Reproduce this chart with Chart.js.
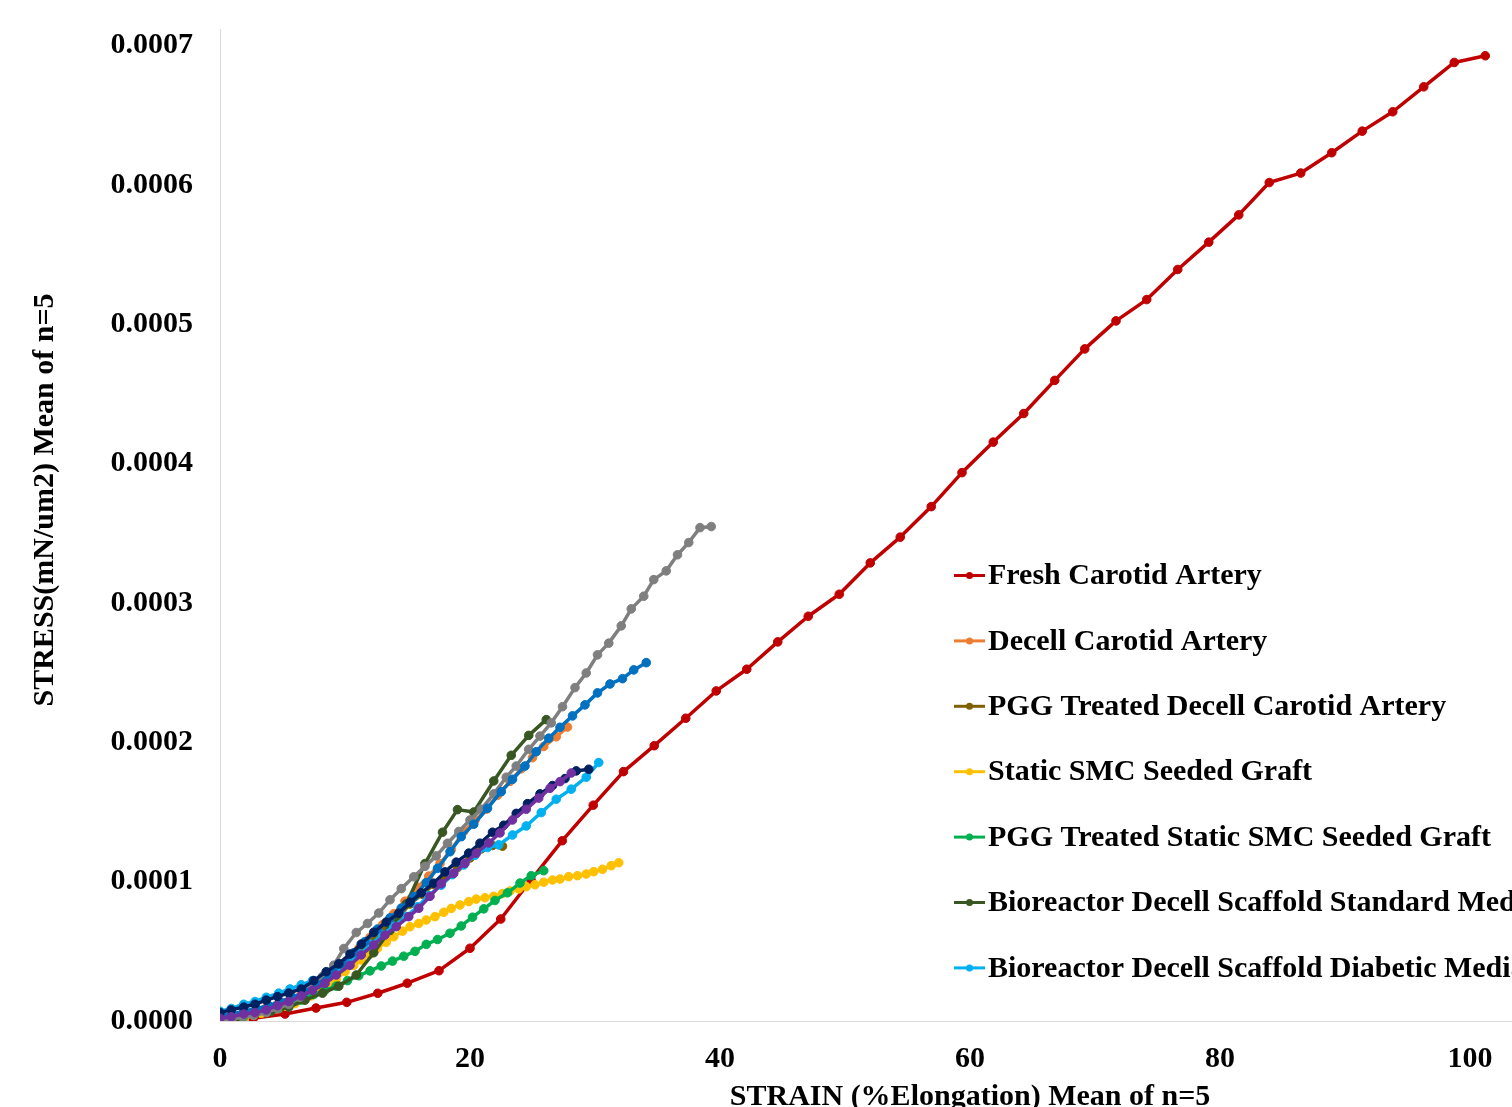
<!DOCTYPE html>
<html>
<head>
<meta charset="utf-8">
<script src="https://cdn.jsdelivr.net/npm/chart.js@4.4.1/dist/chart.umd.min.js"></script>
<style>
  html, body { margin: 0; padding: 0; background: #fff; overflow: hidden; }
  #wrap { position: absolute; left: 0; top: 0; width: 1800px; height: 1140px; }
</style>
</head>
<body>
<div id="wrap"><canvas id="chart" width="1800" height="1140"></canvas></div>
<script>
// Series names (legend order)
const seriesLabels = [
  'Fresh Carotid Artery',
  'Decell Carotid Artery',
  'PGG Treated Decell Carotid Artery',
  'Static SMC Seeded Graft',
  'PGG Treated Static SMC Seeded Graft',
  'Bioreactor Decell Scaffold Standard Media',
  'Bioreactor Decell Scaffold Diabetic Media',
  'PGG Treated Bioreactor Scaffold Standard Media',
  'PGG Treated Bioreactor Scaffold Diabetic Media',
  'Bioreactor SMC Seeded Graft Standard Media',
  'Bioreactor SMC Seeded Graft Diabetic Media'
];
const seriesColors = ['#c00000', '#ed7d31', '#7f6000', '#ffc000', '#00b050', '#385723',
  '#00b0f0', '#7f7f7f', '#0070c0', '#002060', '#7030a0'];

// strain (% elongation) and stress (mN/um2) for each series
const freshStrain = [0, 2.66, 5.2, 7.68, 10.14, 12.62, 14.98, 17.52, 20.0, 22.46, 24.88, 27.38, 29.86,
  32.28, 34.74, 37.26, 39.7, 42.14, 44.62, 47.06, 49.54, 52.02, 54.42, 56.9, 59.36, 61.86, 64.3, 66.78,
  69.18, 71.68, 74.14, 76.62, 79.1, 81.5, 83.94, 86.46, 88.94, 91.38, 93.82, 96.3, 98.74, 101.22];
const freshStress = [0, 0.019e-4, 0.050e-4, 0.093e-4, 0.134e-4, 0.199e-4, 0.271e-4, 0.361e-4, 0.522e-4,
  0.732e-4, 1.012e-4, 1.294e-4, 1.549e-4, 1.790e-4, 1.976e-4, 2.173e-4, 2.369e-4, 2.525e-4, 2.721e-4,
  2.905e-4, 3.063e-4, 3.288e-4, 3.473e-4, 3.692e-4, 3.936e-4, 4.155e-4, 4.360e-4, 4.598e-4, 4.824e-4,
  5.025e-4, 5.178e-4, 5.394e-4, 5.590e-4, 5.786e-4, 6.018e-4, 6.086e-4, 6.232e-4, 6.387e-4, 6.526e-4,
  6.705e-4, 6.880e-4, 6.928e-4];

const decellStrain = [0, 0.9, 1.9, 2.8, 3.7, 4.6, 5.6, 6.5, 7.4, 8.3, 9.3, 10.2, 11.1, 12.0, 13.0, 13.9,
  14.8, 15.8, 16.7, 17.6, 18.5, 19.5, 20.4, 21.3, 22.2, 23.2, 24.1, 25.0, 25.9, 26.9, 27.8];
const decellStress = [0, 0.02e-4, 0.045e-4, 0.07e-4, 0.095e-4, 0.12e-4, 0.155e-4, 0.19e-4, 0.23e-4,
  0.29e-4, 0.36e-4, 0.435e-4, 0.52e-4, 0.60e-4, 0.69e-4, 0.77e-4, 0.86e-4, 0.96e-4, 1.04e-4, 1.13e-4,
  1.23e-4, 1.36e-4, 1.44e-4, 1.52e-4, 1.62e-4, 1.72e-4, 1.81e-4, 1.89e-4, 1.97e-4, 2.04e-4, 2.11e-4];

const pggDecellStrain = [0, 1.0, 1.9, 2.9, 3.8, 4.8, 5.7, 6.7, 7.6, 8.6, 9.5, 10.5, 11.4, 12.4, 13.3,
  14.3, 15.2, 16.2, 17.1, 18.1, 19.0, 20.0, 20.9, 21.8, 22.6];
const pggDecellStress = [0, 0.02e-4, 0.04e-4, 0.06e-4, 0.085e-4, 0.115e-4, 0.15e-4, 0.19e-4, 0.24e-4,
  0.30e-4, 0.36e-4, 0.43e-4, 0.51e-4, 0.59e-4, 0.67e-4, 0.75e-4, 0.84e-4, 0.91e-4, 0.98e-4, 1.04e-4,
  1.10e-4, 1.17e-4, 1.235e-4, 1.26e-4, 1.255e-4];

const staticStrain = [0, 0.7, 1.3, 2.0, 2.7, 3.3, 4.0, 4.7, 5.3, 6.0, 6.7, 7.3, 8.0, 8.7, 9.3, 10.0,
  10.7, 11.3, 12.0, 12.6, 13.3, 13.9, 14.6, 15.2, 15.9, 16.5, 17.2, 17.9, 18.5, 19.2, 19.9, 20.5, 21.2,
  21.9, 22.6, 23.2, 23.9, 24.5, 25.2, 25.9, 26.6, 27.2, 27.9, 28.6, 29.3, 29.9, 30.6, 31.3, 31.9];
const staticStress = [0, 0.01e-4, 0.02e-4, 0.03e-4, 0.04e-4, 0.055e-4, 0.07e-4, 0.09e-4, 0.105e-4,
  0.125e-4, 0.15e-4, 0.18e-4, 0.22e-4, 0.255e-4, 0.30e-4, 0.354e-4, 0.40e-4, 0.438e-4, 0.48e-4,
  0.522e-4, 0.565e-4, 0.605e-4, 0.645e-4, 0.677e-4, 0.70e-4, 0.725e-4, 0.749e-4, 0.78e-4, 0.808e-4,
  0.833e-4, 0.857e-4, 0.875e-4, 0.885e-4, 0.895e-4, 0.915e-4, 0.933e-4, 0.948e-4, 0.964e-4, 0.978e-4,
  0.996e-4, 1.012e-4, 1.019e-4, 1.036e-4, 1.043e-4, 1.055e-4, 1.072e-4, 1.089e-4, 1.115e-4, 1.136e-4];

const pggStaticStrain = [0, 0.9, 1.9, 2.8, 3.7, 4.7, 5.6, 6.5, 7.5, 8.4, 9.3, 10.2, 11.1, 12.0, 12.9,
  13.8, 14.7, 15.6, 16.5, 17.4, 18.4, 19.3, 20.2, 21.1, 22.0, 23.0, 24.0, 24.9, 25.9];
const pggStaticStress = [0, 0.01e-4, 0.03e-4, 0.05e-4, 0.07e-4, 0.09e-4, 0.12e-4, 0.15e-4, 0.19e-4,
  0.22e-4, 0.25e-4, 0.29e-4, 0.325e-4, 0.36e-4, 0.395e-4, 0.43e-4, 0.465e-4, 0.50e-4, 0.55e-4, 0.585e-4,
  0.63e-4, 0.682e-4, 0.745e-4, 0.805e-4, 0.865e-4, 0.92e-4, 0.99e-4, 1.043e-4, 1.079e-4];

const bioStdStrain = [0, 1.4, 2.7, 4.1, 5.5, 6.8, 8.2, 9.5, 10.9, 12.3, 13.6, 14.9, 16.4, 17.8, 19.0,
  20.3, 21.9, 23.3, 24.7, 26.1];
const bioStdStress = [0.01e-4, 0.03e-4, 0.05e-4, 0.07e-4, 0.10e-4, 0.15e-4, 0.20e-4, 0.25e-4, 0.33e-4,
  0.49e-4, 0.65e-4, 0.84e-4, 1.13e-4, 1.355e-4, 1.517e-4, 1.50e-4, 1.723e-4, 1.907e-4, 2.05e-4, 2.163e-4];

const bioDiaStrain = [0, 0.9, 1.9, 2.8, 3.7, 4.7, 5.6, 6.5, 7.4, 8.4, 9.3, 10.2, 11.2, 12.1, 13.0, 13.9,
  14.9, 15.8, 16.7, 17.7, 18.6, 19.5, 20.4, 21.4, 22.3, 23.4, 24.5, 25.7, 26.9, 28.1, 29.3, 30.3];
const bioDiaStress = [0.07e-4, 0.09e-4, 0.12e-4, 0.14e-4, 0.17e-4, 0.20e-4, 0.23e-4, 0.26e-4, 0.29e-4,
  0.33e-4, 0.37e-4, 0.42e-4, 0.48e-4, 0.55e-4, 0.62e-4, 0.68e-4, 0.75e-4, 0.82e-4, 0.90e-4, 0.975e-4,
  1.05e-4, 1.12e-4, 1.19e-4, 1.245e-4, 1.264e-4, 1.335e-4, 1.40e-4, 1.496e-4, 1.592e-4, 1.664e-4,
  1.75e-4, 1.855e-4];

const grayStrain = [0, 0.9, 1.8, 2.7, 3.7, 4.6, 5.5, 6.4, 7.3, 8.2, 9.1, 9.9, 10.9, 11.8, 12.7, 13.6,
  14.5, 15.5, 16.4, 17.3, 18.2, 19.1, 20.0, 20.9, 21.9, 22.9, 23.7, 24.7, 25.6, 26.5, 27.4, 28.4, 29.3,
  30.2, 31.1, 32.1, 32.9, 33.9, 34.7, 35.7, 36.6, 37.5, 38.4, 39.3];
const grayStress = [0, 0.01e-4, 0.03e-4, 0.04e-4, 0.06e-4, 0.09e-4, 0.12e-4, 0.17e-4, 0.23e-4, 0.32e-4,
  0.40e-4, 0.52e-4, 0.635e-4, 0.70e-4, 0.775e-4, 0.87e-4, 0.95e-4, 1.035e-4, 1.11e-4, 1.185e-4, 1.276e-4,
  1.36e-4, 1.443e-4, 1.52e-4, 1.63e-4, 1.75e-4, 1.83e-4, 1.95e-4, 2.045e-4, 2.14e-4, 2.256e-4, 2.393e-4,
  2.498e-4, 2.628e-4, 2.712e-4, 2.836e-4, 2.958e-4, 3.049e-4, 3.168e-4, 3.231e-4, 3.346e-4, 3.434e-4,
  3.541e-4, 3.549e-4];

const blueStrain = [0, 1.0, 1.9, 2.9, 3.9, 4.8, 5.8, 6.8, 7.8, 8.7, 9.7, 10.7, 11.6, 12.6, 13.6, 14.5,
  15.5, 16.5, 17.4, 18.4, 19.3, 20.3, 21.4, 22.5, 23.4, 24.4, 25.3, 26.3, 27.2, 28.2, 29.2, 30.2, 31.2,
  32.2, 33.1, 34.1];
const blueStress = [0.04e-4, 0.05e-4, 0.07e-4, 0.09e-4, 0.11e-4, 0.14e-4, 0.17e-4, 0.21e-4, 0.26e-4,
  0.33e-4, 0.41e-4, 0.49e-4, 0.57e-4, 0.66e-4, 0.74e-4, 0.81e-4, 0.892e-4, 0.993e-4, 1.096e-4, 1.215e-4,
  1.323e-4, 1.412e-4, 1.527e-4, 1.646e-4, 1.735e-4, 1.83e-4, 1.933e-4, 2.03e-4, 2.108e-4, 2.19e-4,
  2.269e-4, 2.355e-4, 2.419e-4, 2.457e-4, 2.52e-4, 2.572e-4];

const navyStrain = [0, 0.9, 1.9, 2.8, 3.7, 4.6, 5.5, 6.5, 7.5, 8.5, 9.5, 10.4, 11.3, 12.3, 13.3, 14.3,
  15.2, 16.1, 17.1, 18.0, 18.9, 19.9, 20.8, 21.8, 22.7, 23.7, 24.6, 25.6, 26.6, 27.6, 28.5, 29.5];
const navyStress = [0.06e-4, 0.08e-4, 0.10e-4, 0.12e-4, 0.15e-4, 0.175e-4, 0.20e-4, 0.23e-4, 0.29e-4,
  0.354e-4, 0.41e-4, 0.48e-4, 0.552e-4, 0.637e-4, 0.71e-4, 0.773e-4, 0.852e-4, 0.92e-4, 0.989e-4,
  1.07e-4, 1.14e-4, 1.205e-4, 1.276e-4, 1.355e-4, 1.405e-4, 1.49e-4, 1.56e-4, 1.63e-4, 1.69e-4,
  1.74e-4, 1.795e-4, 1.807e-4];

const purpleStrain = [0, 0.9, 1.9, 2.8, 3.7, 4.6, 5.5, 6.5, 7.4, 8.4, 9.3, 10.4, 11.3, 12.3, 13.2, 14.1,
  15.1, 15.9, 16.8, 17.7, 18.7, 19.6, 20.5, 21.5, 22.4, 23.4, 24.5, 25.5, 26.4, 27.2, 28.1];
const purpleStress = [0.02e-4, 0.03e-4, 0.05e-4, 0.06e-4, 0.08e-4, 0.11e-4, 0.14e-4, 0.18e-4, 0.22e-4,
  0.27e-4, 0.33e-4, 0.40e-4, 0.474e-4, 0.546e-4, 0.617e-4, 0.677e-4, 0.749e-4, 0.809e-4, 0.895e-4,
  0.985e-4, 1.06e-4, 1.132e-4, 1.204e-4, 1.278e-4, 1.35e-4, 1.443e-4, 1.52e-4, 1.60e-4, 1.67e-4,
  1.718e-4, 1.78e-4];

const strainSets = [freshStrain, decellStrain, pggDecellStrain, staticStrain, pggStaticStrain,
  bioStdStrain, bioDiaStrain, grayStrain, blueStrain, navyStrain, purpleStrain];
const stressSets = [freshStress, decellStress, pggDecellStress, staticStress, pggStaticStress,
  bioStdStress, bioDiaStress, grayStress, blueStress, navyStress, purpleStress];

// axis ticks
const xTickStep = 20;
const xMax = 120;
const yTickStep = 0.0001;
const yMax = 0.000712;
const yTitle = 'STRESS(mN/um2) Mean of n=5';
const xTitle = 'STRAIN (%Elongation) Mean of n=5';

const FONT = '"Liberation Serif", "Times New Roman", serif';

// legend drawn at a fixed spot inside the plot, like the Excel original;
// the y title is drawn here too so it can sit where the original has it
const sideLegend = {
  id: 'sideLegend',
  afterDraw(chart) {
    const ctx = chart.ctx;
    ctx.save();
    ctx.font = 'bold 30px ' + FONT;
    ctx.textBaseline = 'middle';
    chart.data.datasets.forEach((ds, i) => {
      const x0 = i < 7 ? 954 : 1560;
      const y = 575.5 + (i < 7 ? i : i - 7) * 65.4;
      ctx.strokeStyle = ds.borderColor;
      ctx.lineWidth = 3;
      ctx.beginPath();
      ctx.moveTo(x0, y);
      ctx.lineTo(x0 + 31, y);
      ctx.stroke();
      ctx.fillStyle = ds.borderColor;
      ctx.beginPath();
      ctx.arc(x0 + 15.5, y, 3.5, 0, Math.PI * 2);
      ctx.fill();
      ctx.fillStyle = '#000';
      ctx.fillText(ds.label, x0 + 34, y + 1);
    });

    ctx.translate(45.5, 500);
    ctx.rotate(-Math.PI / 2);
    ctx.textAlign = 'center';
    ctx.fillStyle = '#000';
    ctx.fillText(yTitle, 0, 0);
    ctx.restore();
  }
};

const datasets = seriesLabels.map((label, i) => ({
  label: label,
  data: strainSets[i].map((x, j) => ({ x: x, y: stressSets[i][j] })),
  borderColor: seriesColors[i],
  backgroundColor: seriesColors[i],
  pointBackgroundColor: seriesColors[i],
  pointBorderColor: seriesColors[i],
  borderWidth: 3.5,
  pointRadius: 4.3,
  pointBorderWidth: 1,
  pointHoverRadius: 4.3,
  borderJoinStyle: 'round',
  tension: 0,
  fill: false,
  order: seriesLabels.length - 1 - i // later series on top, as in Excel
}));

Chart.defaults.font.family = FONT;
Chart.defaults.font.weight = 'bold';
Chart.defaults.color = '#000';

new Chart(document.getElementById('chart'), {
  type: 'line',
  data: { datasets: datasets },
  options: {
    responsive: false,
    animation: false,
    layout: { padding: { top: 29, right: 80, left: 0, bottom: 0 } },
    plugins: {
      legend: { display: false },
      tooltip: { enabled: false }
    },
    scales: {
      x: {
        type: 'linear',
        min: 0,
        max: xMax,
        afterFit: (scale) => { scale.height = 119; },
        ticks: { stepSize: xTickStep, padding: 20, font: { size: 30, weight: 'bold' }, maxRotation: 0 },
        grid: { display: false, drawTicks: false },
        border: { display: true, color: '#d9d9d9', width: 1 },
        title: {
          display: true,
          text: xTitle,
          font: { size: 30, weight: 'bold' },
          padding: { top: 0, bottom: 25 }
        }
      },
      y: {
        type: 'linear',
        min: 0,
        max: yMax,
        afterFit: (scale) => {
          scale.width = 220;
          scale.paddingTop = 0;
          scale.paddingBottom = 0;
        },
        ticks: {
          stepSize: yTickStep,
          includeBounds: false,
          padding: 27,
          font: { size: 30, weight: 'bold' },
          callback: (v) => v.toFixed(4)
        },
        grid: { display: false, drawTicks: false },
        border: { display: true, color: '#d9d9d9', width: 1 }
      }
    }
  },
  plugins: [sideLegend]
});
</script>
</body>
</html>
